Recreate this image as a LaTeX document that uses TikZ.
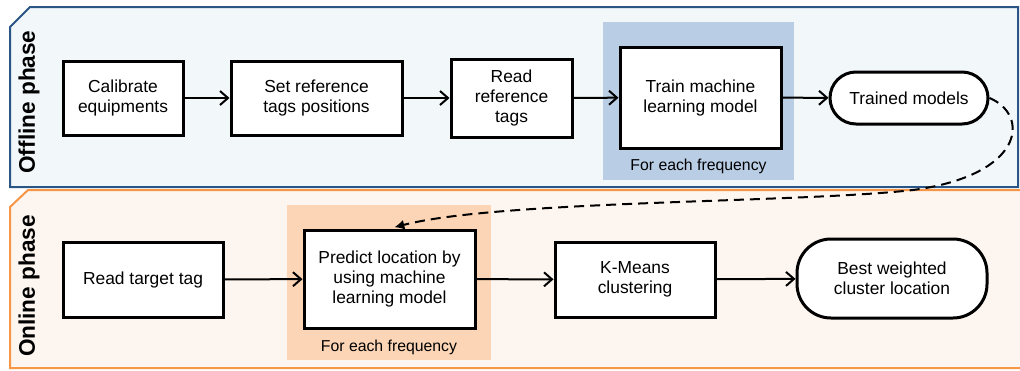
\documentclass[tikz,border=0pt]{standalone}
\usepackage{fontspec}
\setmainfont{Liberation Sans}
\usetikzlibrary{arrows.meta}
\definecolor{offfill}{HTML}{F2F7FA}
\definecolor{offline}{HTML}{2A5585}
\definecolor{offshade}{HTML}{B9CDE5}
\definecolor{onfill}{HTML}{FDF5EF}
\definecolor{online}{HTML}{F79646}
\definecolor{onshade}{HTML}{FBD5B5}

\begin{document}
\begin{tikzpicture}[x = 0.5pt, y = -0.5pt,
                      font = \fontsize{8.7}{10}\selectfont,
                      step box/.style = {draw, line width = 1.5pt, fill = white, align = center, inner sep = 0pt},
                      end box/.style = {step box, rounded corners = 13pt},
                      phase/.style = {rotate = 90, inner sep = 0pt, font = \fontsize{11.3}{12}\selectfont\bfseries},
                      freq/.style = {font = \fontsize{7.9}{9}\selectfont},
                      flow/.style = {line width = 1pt, -{Straight Barb[length = 4pt, width = 7pt]}}]
    \useasboundingbox (0, 0) rectangle (1020, 370);

    % offline phase
    \draw [fill = offfill, draw = offline, line width = 1pt] (10, 27) -- (30, 7) -- (1018, 7) -- (1018, 187) -- (10, 187) -- cycle;
    \node [phase] (off) at (29, 102) {Offline phase};
    \fill [offshade] (603, 22) rectangle (794, 180);
    \node [freq] (f1) at (698.5, 166) {For each frequency};

    \node [step box, minimum width = 60pt, minimum height = 37pt] (calib) at (123, 98) {Calibrate\\equipments};
    \node [step box, minimum width = 85.5pt, minimum height = 37pt] (setref) at (316.5, 98) {Set reference\\tags positions};
    \node [step box, minimum width = 60.5pt, minimum height = 39pt] (readref) at (511.5, 98) {Read\\reference\\tags};
    \node [step box, minimum width = 80.5pt, minimum height = 50.5pt] (train) at (700.5, 97.5) {Train machine\\learning model};
    \node [end box, minimum width = 79pt, minimum height = 26pt] (models) at (909, 98) {Trained models};
    \draw [flow] (calib) -- (setref);
    \draw [flow] (setref) -- (readref);
    \draw [flow] (readref) -- (train);
    \draw [flow] (train) -- (models);

    % online phase
    \draw [fill = onfill, draw = online, line width = 1pt] (10, 207) -- (28, 190) -- (1030, 190) -- (1030, 368) -- (10, 368) -- cycle;
    \node [phase] (on) at (29, 286) {Online phase};
    \fill [onshade] (287, 205) rectangle (491, 360);
    \node [freq] (f2) at (389, 347) {For each frequency};

    \node [step box, minimum width = 80pt, minimum height = 37.5pt] (readtgt) at (143, 279.5) {Read target tag};
    \node [step box, minimum width = 85.5pt, minimum height = 49pt] (predict) at (389.5, 279) {Predict location by\\using machine\\learning model};
    \node [step box, minimum width = 80pt, minimum height = 37.5pt] (kmeans) at (635, 279.5) {K-Means\\clustering};
    \node [end box, rounded corners = 17pt, minimum width = 95pt, minimum height = 39.5pt] (best) at (892, 278.5) {Best weighted\\cluster location};
    \draw [flow] (readtgt) -- (predict);
    \draw [flow] (predict) -- (kmeans);
    \draw [flow] (kmeans) -- (best);

    % models feed the prediction
    \draw [line width = 1pt, dashed, dash pattern = on 5pt off 3pt, -{Latex[length = 5pt, width = 5pt]}, shorten > = 2.5pt]
      (models.east) .. controls (1030, 115) and (1025, 175) .. (913, 190)
      .. controls (800, 203) and (500, 200) .. (predict.north);
\end{tikzpicture}
\end{document}
